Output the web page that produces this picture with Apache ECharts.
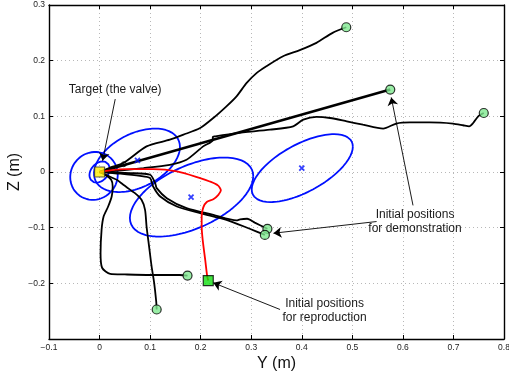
<!DOCTYPE html>
<html>
<head>
<meta charset="utf-8">
<script src="https://cdn.jsdelivr.net/npm/echarts@6/dist/echarts.min.js"></script>
<style>
  html, body { margin: 0; padding: 0; background: #fff; }
  #chart { width: 509px; height: 380px; }
</style>
</head>
<body>
<div id="chart"></div>
<script>
// Demonstrated trajectories (Y, Z in metres), each from its start point to the valve
const demo1 = [[0.488,0.260],[0.461,0.250],[0.429,0.232],[0.396,0.219],[0.363,0.208],[0.330,0.190],[0.311,0.178],[0.291,0.160],[0.271,0.136],[0.251,0.118],[0.225,0.097],[0.199,0.079],[0.166,0.067],[0.139,0.058],[0.093,0.046],[0.047,0.016],[0.021,0.008],[0,0]];
const demo2 = [[0.575,0.148],[0,0]];
const demo3 = [[0.760,0.106],[0.749,0.100],[0.739,0.088],[0.731,0.082],[0.719,0.084],[0.699,0.087],[0.653,0.089],[0.614,0.089],[0.587,0.087],[0.561,0.078],[0.521,0.085],[0.489,0.091],[0.456,0.097],[0.429,0.099],[0.403,0.094],[0.383,0.082],[0.337,0.076],[0.271,0.070],[0.228,0.064],[0.224,0.063],[0.224,0.057],[0.205,0.046],[0.172,0.022],[0.139,0.013],[0.087,0.007],[0.021,0.001],[0,0]];
const demo4 = [[0.332,-0.102],[0.307,-0.091],[0.292,-0.084],[0.278,-0.085],[0.271,-0.087],[0.225,-0.077],[0.172,-0.065],[0.133,-0.047],[0.113,-0.029],[0.110,-0.020],[0.100,-0.005],[0.060,-0.002],[0,0]];
const demo5 = [[0.327,-0.113],[0.297,-0.102],[0.251,-0.086],[0.199,-0.074],[0.153,-0.062],[0.120,-0.044],[0.106,-0.026],[0.100,-0.011],[0.080,-0.007],[0.041,-0.003],[0,0]];
const demo6 = [[0.174,-0.186],[0.159,-0.185],[0.100,-0.185],[0.050,-0.184],[0.021,-0.183],[0.005,-0.172],[0.002,-0.146],[0.004,-0.104],[0.008,-0.080],[0.017,-0.062],[0.024,-0.044],[0.026,-0.026],[0.023,-0.014],[0.011,-0.005],[0,0]];
const demo7 = [[0.113,-0.247],[0.112,-0.232],[0.108,-0.199],[0.103,-0.170],[0.098,-0.134],[0.093,-0.098],[0.090,-0.068],[0.083,-0.050],[0.070,-0.038],[0.047,-0.023],[0.034,-0.014],[0.017,-0.007],[0,0]];
const demoTrajectories = [demo1, demo2, demo3, demo4, demo5, demo6, demo7];

// Reproduced trajectory, from the new start point to the valve
const reproduction = [[0.215,-0.195],[0.213,-0.188],[0.209,-0.158],[0.204,-0.122],[0.202,-0.098],[0.202,-0.080],[0.205,-0.064],[0.212,-0.054],[0.225,-0.049],[0.235,-0.041],[0.240,-0.033],[0.234,-0.024],[0.218,-0.017],[0.199,-0.011],[0.153,0.001],[0.106,0.005],[0.054,0.005],[0.021,0.003],[0,0]];

// Start points
const demoStarts = [[0.488,0.260],[0.575,0.148],[0.760,0.106],[0.332,-0.102],[0.327,-0.113],[0.174,-0.186],[0.113,-0.247]];
const reproStart = [[0.215,-0.195]];
const target = [[0,0]];

// Gaussian components: centres, half-extents along Y and Z, and Y–Z correlation
const gaussCenters = [[0.401,0.007],[0.182,-0.045],[0.074,0.021],[-0.011,-0.007],[0.000,0.000]];
const gaussHalfSpans = [[0.100,0.061],[0.122,0.071],[0.085,0.057],[0.047,0.043],[0.020,0.019]];
const gaussCorrelations = [0.63,0.53,0.42,0.05,0.30];
const gaussMarks = [[0.400,0.007],[0.181,-0.045],[0.075,0.021]];

// Annotation arrows [from, to] and their captions
const arrows = [
  [[0.031,0.131],[0.006,0.020]],
  [[0.620,-0.060],[0.577,0.134]],
  [[0.548,-0.089],[0.344,-0.110]],
  [[0.357,-0.247],[0.225,-0.199]]
];
const captions = [
  { text: 'Target (the valve)', at: [0.031,0.147] },
  { text: 'Initial positions\nfor demonstration', at: [0.624,-0.090] },
  { text: 'Initial positions\nfor reproduction', at: [0.445,-0.249] }
];

const xTicks = { min: -0.1, max: 0.8, step: 0.1 };
const yTicks = { min: -0.3, max: 0.3, step: 0.1 };

function ellipsePoints(c, span, rho) {
  const phi = Math.acos(rho);
  const pts = [];
  for (let i = 0; i <= 120; i++) {
    const t = (i / 120) * 2 * Math.PI;
    pts.push([c[0] + span[0] * Math.cos(t), c[1] + span[1] * Math.cos(t - phi)]);
  }
  return pts;
}

function tickText(v, hideMin, minV) {
  const r = Math.round(v * 10) / 10;
  if (hideMin && Math.abs(r - minV) < 1e-9) return '';
  if (r === 0) return '0';
  return r.toFixed(1).replace('-', '\u2212');
}

const FONT = "'Liberation Sans', Arial, Helvetica, sans-serif";
const chart = echarts.init(document.getElementById('chart'), null, { renderer: 'canvas' });

const axisCommon = {
  type: 'value',
  axisLine: { show: true, onZero: false, lineStyle: { color: '#000', width: 1.4 } },
  axisTick: { show: true, inside: true, length: 4, lineStyle: { color: '#000', width: 1 } },
  splitLine: { show: false }
};

const series = [];

gaussCenters.forEach((c, i) => {
  series.push({
    type: 'line', data: ellipsePoints(c, gaussHalfSpans[i], gaussCorrelations[i]),
    showSymbol: false, symbol: 'none', smooth: false, silent: true,
    lineStyle: { color: '#0010ff', width: 1.8 }, z: 2
  });
});

demoTrajectories.forEach((d, i) => {
  series.push({
    type: 'line', data: d, showSymbol: false, symbol: 'none',
    smooth: d.length > 2 ? 0.25 : false, silent: true,
    lineStyle: { color: '#000', width: i === 1 ? 2.6 : 1.8 }, z: 3
  });
});

series.push({
  type: 'line', data: reproduction, showSymbol: false, symbol: 'none', smooth: 0.25, silent: true,
  lineStyle: { color: '#ff0000', width: 1.8 }, z: 4
});

series.push({
  type: 'scatter', data: gaussMarks, silent: true,
  symbol: 'path://M0,0L10,10M10,0L0,10', symbolSize: 5,
  itemStyle: { color: 'none', borderColor: '#0010ff', borderWidth: 1.8 }, z: 5
});

series.push({
  type: 'scatter', data: [[0.048,0.014]], silent: true,
  symbol: 'circle', symbolSize: 5,
  itemStyle: { color: 'none', borderColor: '#000', borderWidth: 1 }, z: 5
});

series.push({
  type: 'lines', coordinateSystem: 'cartesian2d', silent: true,
  data: arrows.map(a => ({ coords: a })),
  symbol: ['none', 'arrow'], symbolSize: [0, 8],
  lineStyle: { color: '#000', width: 0.9, opacity: 1 }, z: 6
});

series.push({
  type: 'scatter', data: demoStarts, silent: true, symbol: 'circle', symbolSize: 9,
  itemStyle: { color: '#7fe890', borderColor: '#000', borderWidth: 1.2 }, z: 7
});
series.push({
  type: 'scatter', data: reproStart, silent: true, symbol: 'rect', symbolSize: 10,
  itemStyle: { color: '#10e010', borderColor: '#000', borderWidth: 1.2 }, z: 7
});
series.push({
  type: 'scatter', data: target, silent: true, symbol: 'rect', symbolSize: 10,
  itemStyle: { color: '#ffee00', borderColor: '#333', borderWidth: 1.2 }, z: 8
});

chart.setOption({
  animation: false,
  backgroundColor: '#fff',
  grid: { left: 49, right: 5, top: 5, bottom: 41, containLabel: false, outerBoundsMode: 'none' },
  xAxis: [
    Object.assign({}, axisCommon, {
      position: 'bottom', min: xTicks.min, max: xTicks.max, interval: xTicks.step,
      name: 'Y (m)', nameLocation: 'middle', nameGap: 17, nameMoveOverlap: false,
      nameTextStyle: { fontFamily: FONT, fontSize: 16, color: '#111', verticalAlign: 'top' },
      axisLabel: { fontFamily: FONT, fontSize: 8.5, color: '#222', margin: 4,
        formatter: v => tickText(v, false) },
      splitLine: { show: true, lineStyle: { color: '#b8b8b8', type: [1, 3], width: 1 } }
    }),
    Object.assign({}, axisCommon, {
      position: 'top', min: xTicks.min, max: xTicks.max, interval: xTicks.step,
      axisLabel: { show: false }
    })
  ],
  yAxis: [
    Object.assign({}, axisCommon, {
      position: 'left', min: yTicks.min, max: yTicks.max, interval: yTicks.step,
      name: 'Z (m)', nameLocation: 'middle', nameGap: 26, nameRotate: 90, nameMoveOverlap: false,
      nameTextStyle: { fontFamily: FONT, fontSize: 16, color: '#111' },
      axisLabel: { fontFamily: FONT, fontSize: 8.5, color: '#222', margin: 4,
        formatter: v => tickText(v, true, yTicks.min) },
      splitLine: { show: true, lineStyle: { color: '#b8b8b8', type: [1, 3], width: 1 } }
    }),
    Object.assign({}, axisCommon, {
      position: 'right', min: yTicks.min, max: yTicks.max, interval: yTicks.step,
      axisLabel: { show: false }
    })
  ],
  series: series
});

// Captions placed at data positions
const graphics = captions.map(c => {
  const p = chart.convertToPixel({ xAxisIndex: 0, yAxisIndex: 0 }, c.at);
  return {
    type: 'text', x: p[0], y: p[1], z: 100,
    style: { text: c.text, fill: '#1a1a1a', font: '12px ' + FONT,
      align: 'center', verticalAlign: 'middle', lineHeight: 14 }
  };
});
chart.setOption({ graphic: graphics });
</script>
</body>
</html>
